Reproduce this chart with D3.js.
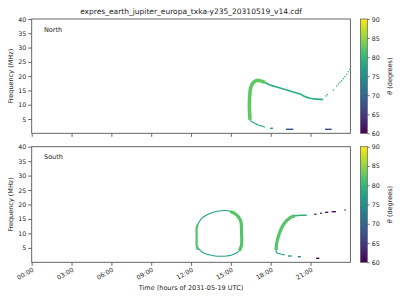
<!DOCTYPE html>
<html>
<head>
<meta charset="utf-8">
<script src="https://cdn.jsdelivr.net/npm/d3@7"></script>
<style>
  body { margin: 0; background: #fff; }
  svg text { font-family: "DejaVu Sans", sans-serif; fill: #222; }
</style>
</head>
<body>
<div id="chart"></div>
<script>
// data (hours of day, MHz, theta in degrees)
var title = "expres_earth_jupiter_europa_txka-y235_20310519_v14.cdf";
var xTicks = [0, 3, 6, 9, 12, 15, 18, 21];
var xTickLabels = ["00:00", "03:00", "06:00", "09:00", "12:00", "15:00", "18:00", "21:00"];
var yTicks = [5, 10, 15, 20, 25, 30, 35, 40];
var cbTicks = [60, 65, 70, 75, 80, 85, 90];

// North
var northHook = [[16.44,4.66],[16.40,8.16],[16.40,11.66],[16.44,14.46],[16.51,16.21],[16.66,17.61],[16.94,18.48],[17.27,18.31],[17.57,17.78]];
var northHookTheta = 82.5;
var northSlope = [[17.57,17.78],[17.95,16.91],[18.70,15.86],[19.45,14.81],[20.20,13.76],[20.58,12.88],[20.96,12.25],[21.41,11.94],[21.94,11.90]];
var northSlopeTheta = 79;
var northRise = [[22.16,13.06],[22.26,13.51],[22.71,15.16],[22.97,16.56],[23.09,17.26],[23.22,17.85],[23.34,18.41],[23.46,19.11],[23.59,19.81],[23.72,20.65],[23.84,21.56],[23.97,22.40]];
var northRiseTheta = 76;
var northTail = [[16.44,4.66],[16.57,4.06],[16.81,3.50],[17.06,2.91],[17.32,2.56],[17.57,2.10]];
var northTailTheta = 79;
var northDashes = [[17.95,18.17,1.75,77],[19.15,19.70,1.40,67],[22.09,22.59,1.40,67]];

// South
var southLoop = [[12.42,5.99],[12.42,9.10],[12.42,11.87],[12.55,13.49],[12.80,15.22],[13.18,16.37],[13.67,17.30],[14.31,17.85],[14.80,17.85],[15.18,17.16],[15.56,15.78],[15.76,13.94],[15.80,10.48],[15.80,5.99],[15.65,4.08],[15.44,3.32],[15.06,2.53],[14.68,2.18],[13.80,2.18],[13.43,2.53],[12.92,3.32],[12.55,4.84],[12.42,5.99]];
var southLoopTheta = 77;
var southLoopLeft = [[12.50,4.3],[12.42,5.99],[12.42,9.10],[12.42,11.87],[12.50,13.0]];
var southLoopRight = [[14.95,17.6],[15.18,17.16],[15.56,15.78],[15.76,13.94],[15.80,10.48],[15.80,5.99],[15.65,4.08]];
var southLoopSideTheta = 82;
var southHook = [[18.40,4.26],[18.45,6.57],[18.57,8.86],[18.75,11.18],[18.95,12.91],[19.20,14.39],[19.50,15.57],[19.83,16.12]];
var southHookTheta = 82;
var southFlat = [[19.83,16.12],[20.20,16.26],[20.71,16.26]];
var southFlatTheta = 79;
var southTail = [[18.40,4.26],[18.45,3.32],[18.75,2.87],[19.07,2.53]];
var southTailTheta = 78;
var southDashes = [[19.30,19.58,2.18,77],[20.05,20.26,1.94,72],[21.41,21.66,1.38,60.5],
                   [21.26,21.46,16.61,68],[21.71,21.86,16.96,65],[22.09,22.33,17.30,63],[22.59,22.91,17.51,61],[23.55,23.63,18.10,61]];

var W = 400, H = 300;
var svg = d3.select("#chart").append("svg")
    .attr("width", W)
    .attr("height", H);

var x = d3.scaleLinear().domain([0, 24]).range([31.7, 350.4]);
var color = function(t) { return d3.interpolateViridis((t - 60) / 30); };

svg.append("text")
    .attr("x", 191).attr("y", 14)
    .attr("text-anchor", "middle")
    .style("font-size", "7.5px")
    .text(title);

// gradient for colour bars
var defs = svg.append("defs");
var grad = defs.append("linearGradient")
    .attr("id", "viridis")
    .attr("x1", 0).attr("y1", 1).attr("x2", 0).attr("y2", 0);
d3.range(0, 1.0001, 0.05).forEach(function(s) {
  grad.append("stop").attr("offset", s).attr("stop-color", d3.interpolateViridis(s));
});

function drawPanel(top, bottom, name, showX, draw) {
  var y = d3.scaleLinear().domain([0, 40]).range([bottom, top]);
  var g = svg.append("g");

  var plot = g.append("g");
  draw(plot, y);

  // y axis
  var yAxis = g.append("g")
      .attr("transform", "translate(" + x(0) + ",0)")
      .call(d3.axisLeft(y).tickValues(yTicks).tickSize(3.5).tickPadding(2));
  yAxis.select(".domain").remove();
  yAxis.selectAll("line").attr("stroke", "#444").attr("stroke-width", 0.8);
  yAxis.selectAll("text").style("font-size", "6.3px").attr("fill", "#222");

  // x axis
  var xAxis = g.append("g")
      .attr("transform", "translate(0," + bottom + ")")
      .call(d3.axisBottom(x).tickValues(xTicks).tickSize(3.5).tickFormat(function(d, i) { return showX ? xTickLabels[i] : ""; }));
  xAxis.select(".domain").remove();
  xAxis.selectAll("line").attr("stroke", "#444").attr("stroke-width", 0.8);
  xAxis.selectAll("text")
      .style("font-size", "6.3px")
      .attr("fill", "#222")
      .attr("text-anchor", "end")
      .attr("dy", 0)
      .attr("transform", "translate(0,3) rotate(-30)")
      .attr("y", 6).attr("x", -1);

  // frame
  g.append("rect")
      .attr("x", x(0)).attr("y", top)
      .attr("width", x(24) - x(0)).attr("height", bottom - top)
      .attr("fill", "none").attr("stroke", "#555").attr("stroke-width", 0.9);

  g.append("text")
      .attr("x", 44).attr("y", top + 12.5)
      .style("font-size", "6.5px")
      .text(name);

  g.append("text")
      .attr("transform", "translate(13," + ((top + bottom) / 2) + ") rotate(-90)")
      .attr("text-anchor", "middle")
      .style("font-size", "6.5px")
      .text("Frequency (MHz)");

  // colour bar
  var cb = d3.scaleLinear().domain([60, 90]).range([bottom, top]);
  var cg = g.append("g");
  cg.append("rect")
      .attr("x", 360.5).attr("y", top)
      .attr("width", 6.8).attr("height", bottom - top)
      .attr("fill", "url(#viridis)")
      .attr("stroke", "#555").attr("stroke-width", 0.7);
  var cAxis = cg.append("g")
      .attr("transform", "translate(367.3,0)")
      .call(d3.axisRight(cb).tickValues(cbTicks).tickSize(2.5).tickPadding(2));
  cAxis.select(".domain").remove();
  cAxis.selectAll("line").attr("stroke", "#444").attr("stroke-width", 0.7);
  cAxis.selectAll("text").style("font-size", "6.3px").attr("fill", "#222");
  cg.append("text")
      .attr("transform", "translate(392," + ((top + bottom) / 2) + ") rotate(-90)")
      .attr("text-anchor", "middle")
      .style("font-size", "6.5px")
      .html('<tspan font-style="italic">θ</tspan> (degrees)');
}

function curve(g, y, pts, theta, w) {
  var line = d3.line().x(function(d) { return x(d[0]); }).y(function(d) { return y(d[1]); }).curve(d3.curveCatmullRom);
  g.append("path")
      .datum(pts)
      .attr("d", line)
      .attr("fill", "none")
      .attr("stroke", color(theta))
      .attr("stroke-width", w)
      .attr("stroke-linejoin", "round");
}

function dashes(g, y, list) {
  g.selectAll(null)
      .data(list)
      .enter().append("rect")
      .attr("x", function(d) { return x(d[0]); })
      .attr("y", function(d) { return y(d[2]) - 0.7; })
      .attr("width", function(d) { return Math.max(1.2, x(d[1]) - x(d[0])); })
      .attr("height", 1.4)
      .attr("fill", function(d) { return color(d[3]); });
}

function dots(g, y, pts, theta) {
  g.selectAll(null)
      .data(pts)
      .enter().append("rect")
      .attr("x", function(d) { return x(d[0]) - 0.6; })
      .attr("y", function(d) { return y(d[1]) - 0.6; })
      .attr("width", 1.2).attr("height", 1.2)
      .attr("fill", color(theta));
}

drawPanel(19, 133.3, "North", false, function(g, y) {
  curve(g, y, northTail, northTailTheta, 1.2);
  curve(g, y, northSlope, northSlopeTheta, 1.7);
  curve(g, y, northHook, northHookTheta, 3.6);
  dots(g, y, northRise, northRiseTheta);
  dashes(g, y, northDashes);
});

drawPanel(146.7, 262.3, "South", true, function(g, y) {
  curve(g, y, southLoop, southLoopTheta, 1.1);
  curve(g, y, southLoopLeft, southLoopSideTheta, 2.2);
  curve(g, y, southLoopRight, southLoopSideTheta, 3.2);
  curve(g, y, southTail, southTailTheta, 1.2);
  curve(g, y, southFlat, southFlatTheta, 1.4);
  curve(g, y, southHook, southHookTheta, 3.2);
  dashes(g, y, southDashes);
});

svg.append("text")
    .attr("x", 191).attr("y", 290)
    .attr("text-anchor", "middle")
    .style("font-size", "6.5px")
    .text("Time (hours of 2031-05-19 UTC)");
</script>
</body>
</html>
